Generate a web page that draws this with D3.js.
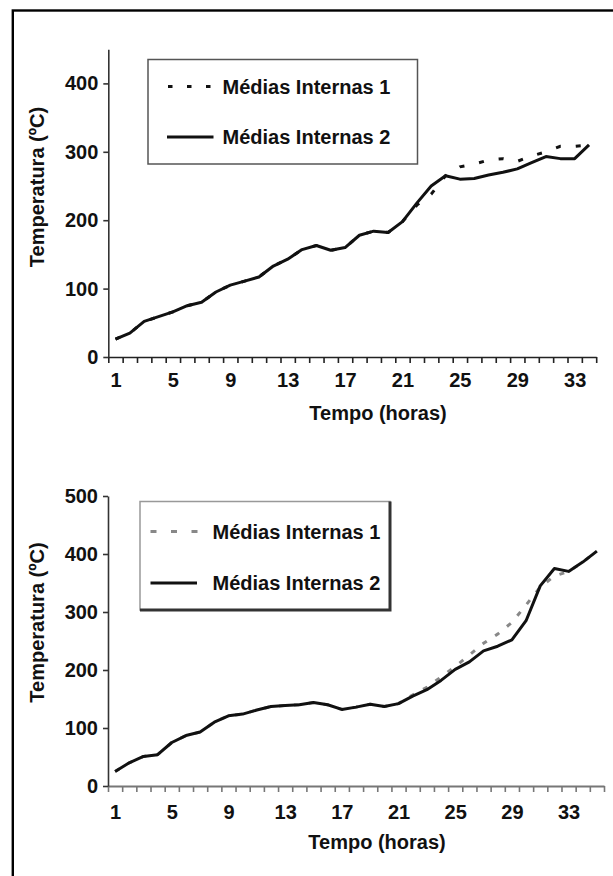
<html>
<head>
<meta charset="utf-8" />
<script src="https://d3js.org/d3.v7.min.js"></script>
<style>
  body { margin: 0; background: #fff; }
  text { font-family: "Liberation Sans", Arial, sans-serif; font-weight: bold; fill: #111; }
</style>
</head>
<body>
<svg id="chart" width="613" height="876"></svg>
<script>
// top chart, hours 1..34
var hoursTop = [1, 2, 3, 4, 5, 6, 7, 8, 9, 10, 11, 12, 13, 14, 15, 16, 17,
  18, 19, 20, 21, 22, 23, 24, 25, 26, 27, 28, 29, 30, 31, 32, 33, 34];
var mediasTop1 = [26, 35, 52, 59, 66, 75, 80, 95, 105, 111, 117, 133, 143, 157, 163, 156, 160,
  178, 184, 182, 198, 222, 238, 265, 278, 282, 288, 290, 286, 294, 300, 308, 308, 310];
var mediasTop2 = [26, 35, 52, 59, 66, 75, 80, 95, 105, 111, 117, 133, 143, 157, 163, 156, 160,
  178, 184, 182, 198, 225, 250, 265, 260, 261, 266, 270, 275, 284, 293, 290, 290, 310];

// bottom chart, hours 1..35
var hoursBottom = [1, 2, 3, 4, 5, 6, 7, 8, 9, 10, 11, 12, 13, 14, 15, 16, 17, 18,
  19, 20, 21, 22, 23, 24, 25, 26, 27, 28, 29, 30, 31, 32, 33, 34, 35];
var mediasBottom1 = [25, 40, 51, 54, 75, 87, 93, 110, 121, 124, 131, 137, 139, 140, 144, 140, 132, 136,
  141, 137, 142, 157, 170, 188, 206, 226, 246, 262, 282, 312, 343, 362, 370, 386, 405];
var mediasBottom2 = [25, 40, 51, 54, 75, 87, 93, 110, 121, 124, 131, 137, 139, 140, 144, 140, 132, 136,
  141, 137, 142, 155, 166, 182, 201, 214, 233, 241, 252, 285, 345, 375, 370, 386, 405];

var yTicksTop = [0, 100, 200, 300, 400];
var yTicksBottom = [0, 100, 200, 300, 400, 500];
var xLabels = [1, 5, 9, 13, 17, 21, 25, 29, 33];
var legendNames = ["Médias Internas 1", "Médias Internas 2"];
var xTitle = "Tempo (horas)";
var yTitle = "Temperatura (ºC)";

var svg = d3.select("#chart");

svg.append("rect").attr("width", 613).attr("height", 876).attr("fill", "#fff");

// outer frame (right and bottom edges fall outside the picture)
svg.append("rect")
  .attr("x", 12.8).attr("y", 10.5)
  .attr("width", 700).attr("height", 900)
  .attr("fill", "none").attr("stroke", "#000").attr("stroke-width", 2.4);

function panel(cfg) {
  var n = cfg.hours.length;
  var x = d3.scaleLinear().domain([0.5, n + 0.5]).range([cfg.left, cfg.right]);
  var y = d3.scaleLinear().domain([0, cfg.yMax]).range([cfg.base, cfg.base - cfg.yMax * cfg.pxPerUnit]);
  var g = svg.append("g");

  // x axis: ticks between categories
  var bounds = d3.range(0, n + 1).map(function (i) { return i + 0.5; });
  var xa = g.append("g")
    .attr("transform", "translate(0," + cfg.base + ")")
    .call(d3.axisBottom(x).tickValues(bounds).tickSize(6).tickSizeOuter(0).tickFormat(""));
  xa.select(".domain").attr("stroke", cfg.xAxisColor).attr("stroke-width", cfg.xAxisWidth);
  xa.selectAll(".tick line").attr("stroke", cfg.xAxisColor).attr("stroke-width", 1.6);

  var xl = g.append("g")
    .attr("transform", "translate(0," + cfg.base + ")")
    .call(d3.axisBottom(x).tickValues(xLabels).tickSize(0).tickPadding(cfg.labelPad));
  xl.select(".domain").remove();
  xl.selectAll("text").attr("font-size", 20).attr("fill", "#111")
    .style("font-family", '"Liberation Sans", Arial, sans-serif').style("font-weight", "bold");

  // y axis
  var ya = g.append("g")
    .attr("transform", "translate(" + cfg.left + ",0)")
    .call(d3.axisLeft(y).tickValues(cfg.yTicks).tickSize(5).tickPadding(5).tickSizeOuter(0));
  ya.select(".domain").attr("stroke", "#333").attr("stroke-width", 1.6);
  ya.selectAll(".tick line").attr("stroke", "#333").attr("stroke-width", 1.6);
  ya.selectAll("text").attr("font-size", 20).attr("fill", "#111")
    .style("font-family", '"Liberation Sans", Arial, sans-serif').style("font-weight", "bold");

  // titles
  g.append("text").attr("x", cfg.xTitleX).attr("y", cfg.xTitleY)
    .attr("text-anchor", "middle").attr("font-size", 20).text(xTitle);
  g.append("text")
    .attr("transform", "translate(43.5," + cfg.yTitleY + ") rotate(-90)")
    .attr("text-anchor", "middle").attr("font-size", 20).text(yTitle);

  var line = d3.line()
    .x(function (d, i) { return x(cfg.hours[i]); })
    .y(function (d) { return y(d); });

  g.append("path").datum(cfg.s1)
    .attr("d", line).attr("fill", "none")
    .attr("stroke", cfg.dashColor).attr("stroke-width", 3)
    .attr("stroke-dasharray", cfg.dash);
  g.append("path").datum(cfg.s2)
    .attr("d", line).attr("fill", "none")
    .attr("stroke", "#111").attr("stroke-width", 3).attr("stroke-linejoin", "round");

  // legend
  var L = cfg.legend;
  g.append("rect").attr("x", L.x).attr("y", L.y).attr("width", L.w).attr("height", L.h)
    .attr("fill", "#fff").attr("stroke", L.stroke).attr("stroke-width", 1.5);
  if (L.shadow) {
    g.append("path")
      .attr("d", "M" + L.x + "," + (L.y + L.h) + "H" + (L.x + L.w) + "V" + L.y)
      .attr("fill", "none").attr("stroke", "#333").attr("stroke-width", 3);
  }
  g.append("line").attr("x1", L.s1[0]).attr("x2", L.s1[1]).attr("y1", L.row1).attr("y2", L.row1)
    .attr("stroke", cfg.dashColor).attr("stroke-width", 3).attr("stroke-dasharray", L.dash);
  g.append("line").attr("x1", L.s2[0]).attr("x2", L.s2[1]).attr("y1", L.row2).attr("y2", L.row2)
    .attr("stroke", "#111").attr("stroke-width", 3);
  g.append("text").attr("x", L.textX).attr("y", L.row1 + 7).attr("font-size", 20).text(legendNames[0]);
  g.append("text").attr("x", L.textX).attr("y", L.row2 + 7).attr("font-size", 20).text(legendNames[1]);
}

panel({
  hours: hoursTop, s1: mediasTop1, s2: mediasTop2,
  left: 108.3, right: 596.2, base: 357, yMax: 450, pxPerUnit: 0.684,
  yTicks: yTicksTop, labelPad: 16,
  xAxisColor: "#222", xAxisWidth: 1.6,
  xTitleX: 378, xTitleY: 419.5, yTitleY: 187,
  dashColor: "#111", dash: "5,15",
  legend: { x: 148, y: 59.5, w: 269.5, h: 104.5, row1: 86.5, row2: 137,
    s1: [168, 212], s2: [167, 213.5], textX: 222.5, dash: "4.5,14.5",
    stroke: "#555", shadow: false }
});

panel({
  hours: hoursBottom, s1: mediasBottom1, s2: mediasBottom2,
  left: 108, right: 604, base: 786, yMax: 500, pxPerUnit: 0.58,
  yTicks: yTicksBottom, labelPad: 19,
  xAxisColor: "#777", xAxisWidth: 2.2,
  xTitleX: 377, xTitleY: 848.5, yTitleY: 622.5,
  dashColor: "#888", dash: "5,10",
  legend: { x: 140, y: 501.5, w: 250, h: 108.5, row1: 531.5, row2: 583,
    s1: [150.5, 198], s2: [150.5, 197], textX: 212.5, dash: "6,14.5",
    stroke: "#999", shadow: true }
});
</script>
</body>
</html>
